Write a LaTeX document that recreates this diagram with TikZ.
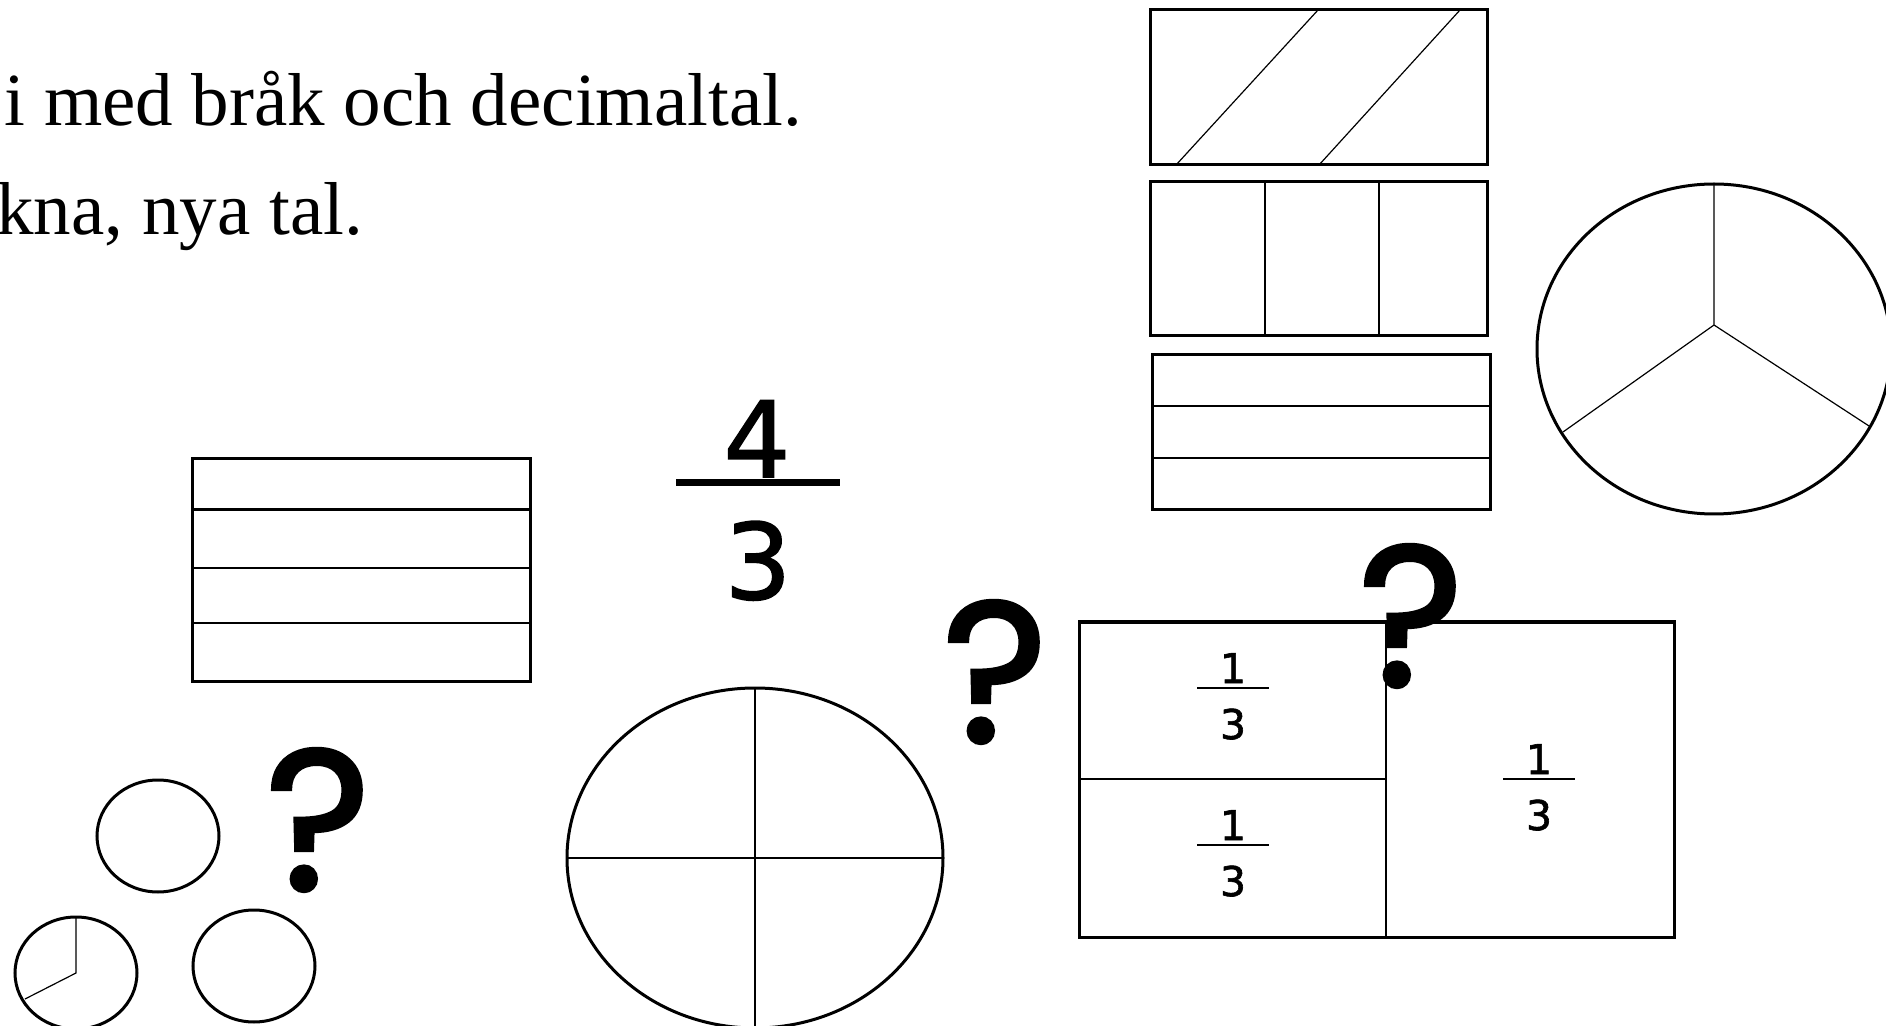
\documentclass[tikz,border=0pt]{standalone}
\usepackage{fontspec}
\setmainfont{Liberation Serif}
\newfontfamily\handfont[FakeBold=1.5]{DejaVu Sans}
\newfontfamily\queryfont[FakeBold=2]{Poppins}
\usetikzlibrary{positioning}

\begin{document}
\begin{tikzpicture}[
    x=0.5pt, y=-0.5pt,
    frame/.style={line width=1.5pt},
    split/.style={line width=1.0pt},
    thin/.style={line width=0.6pt},
    bar/.style={line width=1.4pt},
    bigbar/.style={line width=3.5pt},
    prose/.style={anchor=base west, inner sep=0pt, font=\fontsize{37.5}{45}\selectfont},
    digit/.style={anchor=base, inner sep=0pt, font=\handfont\fontsize{20.5}{24}\selectfont},
    bigdigit/.style={anchor=base, inner sep=0pt, font=\handfont\fontsize{52.5}{60}\selectfont},
    query/.style={anchor=base, inner sep=0pt, font=\queryfont\fontsize{100}{110}\selectfont}
]
\path[use as bounding box, fill=white] (0,0) rectangle (1886,1026);

% Shapes
\draw[frame] (1150,10) rectangle (1487,165);
\draw[thin] (1176,165) -- (1318,10) (1319,165) -- (1460,10);

\draw[frame] (1150,182) rectangle (1487,336);
\draw[split] (1265,182) -- (1265,336) (1379,182) -- (1379,336);

\draw[frame] (1152,355) rectangle (1490,510);
\draw[split] (1152,406) -- (1490,406) (1152,458) -- (1490,458);

\draw[frame] (1714,349) ellipse [x radius=177, y radius=165];
\draw[thin] (1714,184) -- (1714,325) -- (1563,432) (1714,325) -- (1869,426);

\draw[frame] (192,459) rectangle (530,681);
\draw[frame] (192,510) -- (530,510);
\draw[split] (192,568) -- (530,568) (192,623) -- (530,623);

\draw[frame] (755,858) ellipse [x radius=188, y radius=170];
\draw[thin] (567,858) -- (943,858) (755,688) -- (755,1028);

\draw[frame] (158,836) ellipse [x radius=61, y radius=56];
\draw[frame] (76,973) ellipse [x radius=61, y radius=56];
\draw[thin] (76,917) -- (76,973) -- (25,999);
\draw[frame] (254,966) ellipse [x radius=61, y radius=56];

\draw[frame] (1079,622) rectangle (1674,937);
\draw[split] (1386,622) -- (1386,937) (1079,779) -- (1386,779);

% Nodes
\node[prose] (line1) at (4,126) {i med bråk och decimaltal.};
\node[prose] (line2) at (-4,235) {kna, nya tal.};

\draw[bigbar] (676,483) -- (840,483);
\node[bigdigit] (four) at (757,477) {4};
\node[bigdigit] (three) at (758,599) {3};

\foreach \cx/\by/\nm in {1233/688/ta, 1233/845/tb, 1539/779/tc} {
  \draw[bar] (\cx-36,\by) -- (\cx+36,\by);
  \node[digit] (\nm-num) at (\cx,\by-5) {1};
  \node[digit] (\nm-den) at (\cx,\by+51) {3};
}

\node[query] (q1) at (318,890) {?};
\node[query] (q2) at (995,742) {?};
\node[query] (q3) at (1411,686) {?};

\end{tikzpicture}
\end{document}
